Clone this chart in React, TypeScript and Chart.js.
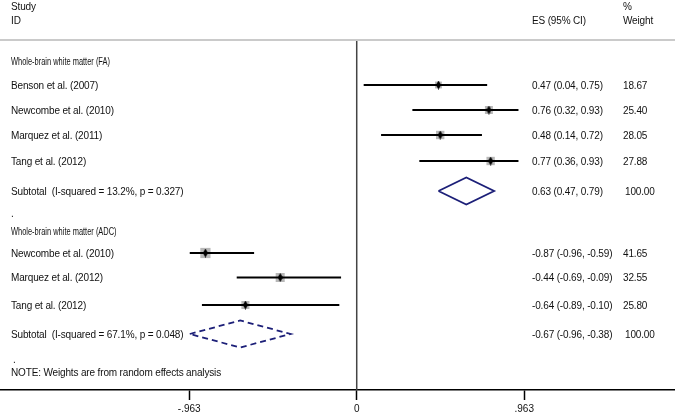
import React, { useEffect, useRef } from "react";
import { Chart, registerables } from "chart.js";

Chart.register(...registerables);

// ---------- data ----------
const faStudies = ["Benson et al. (2007)", "Newcombe et al. (2010)", "Marquez et al. (2011)", "Tang et al. (2012)"];
const faES = [0.47, 0.76, 0.48, 0.77];
const faLo = [0.04, 0.32, 0.14, 0.36];
const faHi = [0.75, 0.93, 0.72, 0.93];
const faWeight = [18.67, 25.4, 28.05, 27.88];

const adcStudies = ["Newcombe et al. (2010)", "Marquez et al. (2012)", "Tang et al. (2012)"];
const adcES = [-0.87, -0.44, -0.64];
const adcLo = [-0.96, -0.69, -0.89];
const adcHi = [-0.59, -0.09, -0.1];
const adcWeight = [41.65, 32.55, 25.8];

const subtotalLabels = ["Subtotal  (I-squared = 13.2%, p = 0.327)", "Subtotal  (I-squared = 67.1%, p = 0.048)"];
const subES = [0.63, -0.67];
const subLo = [0.47, -0.96];
const subHi = [0.79, -0.38];
const subWeight = [100.0, 100.0];

const groupHeaders = ["Whole-brain white matter (FA)", "Whole-brain white matter (ADC)"];
const tickValues = [-0.963, 0, 0.963];
const tickLabels = ["-.963", "0", ".963"];
const noteText = "NOTE: Weights are from random effects analysis";

// ---------- layout (row positions on the vertical scale) ----------
const Y_HEAD1 = 6.5;
const Y_HEAD2 = 20.5;
const Y_RULE = 40;
const Y_FA_HEADER = 61.5;
const Y_FA_ROWS = [85, 110, 135, 161];
const Y_FA_SUB = 191;
const Y_DOT1 = 213;
const Y_ADC_HEADER = 231;
const Y_ADC_ROWS = [253, 277.5, 305];
const Y_ADC_SUB = 334;
const Y_DOT2 = 359;
const Y_NOTE = 372.5;
const Y_AXIS = 390;
const AXIS_HEIGHT = 25;
const X_MIN = -2.051;
const X_MAX = 1.83;
const DIAMOND_HALF = 13.5;

const NAVY = "#1c1f78";
const FAMILY = '"Liberation Sans", Arial, sans-serif';
const FONT = `10px ${FAMILY}`;
const HEADER_FONT = `10.8px ${FAMILY}`;
const fmt = (v: number) => v.toFixed(2);
const ciText = (e: number, l: number, h: number) => `${fmt(e)} (${fmt(l)}, ${fmt(h)})`;

export default function App() {
  const ref = useRef<HTMLCanvasElement | null>(null);

  useEffect(() => {
    document.body.style.margin = "0";
    const canvas = ref.current!;

    const marker = document.createElement("canvas");
    marker.width = 5;
    marker.height = 9;
    const mc = marker.getContext("2d")!;
    mc.fillStyle = "#000";
    mc.beginPath();
    mc.moveTo(2.5, 0);
    mc.lineTo(5, 4.5);
    mc.lineTo(2.5, 9);
    mc.lineTo(0, 4.5);
    mc.closePath();
    mc.fill();

    const allES = [...faES, ...adcES];
    const allLo = [...faLo, ...adcLo];
    const allHi = [...faHi, ...adcHi];
    const allW = [...faWeight, ...adcWeight];
    const allY = [...Y_FA_ROWS, ...Y_ADC_ROWS];
    const subY = [Y_FA_SUB, Y_ADC_SUB];

    const datasets: any[] = [];

    datasets.push({
      data: [{ x: X_MIN, y: Y_RULE }, { x: X_MAX, y: Y_RULE }],
      showLine: true, borderColor: "#cacaca", borderWidth: 2, pointRadius: 0, order: 10,
    });
    datasets.push({
      data: [{ x: 0, y: Y_RULE }, { x: 0, y: Y_AXIS }],
      showLine: true, borderColor: "#444", borderWidth: 1.5, pointRadius: 0, order: 10,
    });

    datasets.push({
      data: allES.map((e, i) => ({ x: e, y: allY[i] })),
      pointStyle: "rect",
      pointRadius: allW.map((w) => 1.12 * Math.sqrt(w)),
      backgroundColor: "#b8b8b8",
      borderWidth: 0,
      order: 5,
    });

    allES.forEach((_, i) => {
      datasets.push({
        data: [{ x: allLo[i], y: allY[i] }, { x: allHi[i], y: allY[i] }],
        showLine: true, borderColor: "#000", borderWidth: 2, pointRadius: 0, order: 3,
      });
    });

    datasets.push({
      data: allES.map((e, i) => ({ x: e, y: allY[i] })),
      pointStyle: marker,
      pointRadius: 4,
      order: 1,
    });

    subES.forEach((e, i) => {
      datasets.push({
        data: [
          { x: subLo[i], y: subY[i] },
          { x: e, y: subY[i] - DIAMOND_HALF },
          { x: subHi[i], y: subY[i] },
          { x: e, y: subY[i] + DIAMOND_HALF },
          { x: subLo[i], y: subY[i] },
        ],
        showLine: true,
        borderColor: NAVY,
        borderWidth: 1.8,
        borderDash: i === 1 ? [6, 4] : [],
        pointRadius: 0,
        tension: 0,
        order: 2,
      });
    });

    const textPlugin = {
      id: "forestText",
      afterDatasetsDraw(chart: any) {
        const ctx = chart.ctx as CanvasRenderingContext2D;
        const ys = chart.scales.y;
        const py = (v: number) => ys.getPixelForValue(v) + 1;
        ctx.save();
        ctx.fillStyle = "#111";
        ctx.textBaseline = "middle";
        ctx.textAlign = "left";
        ctx.font = FONT;
        (ctx as any).letterSpacing = "-0.15px";
        const X_L = 11, X_ES = 532, X_W = 623;
        const put = (t: string, x: number, y: number) => ctx.fillText(t, x, py(y));
        const putNarrow = (t: string, x: number, y: number, s: number) => {
          ctx.save();
          (ctx as any).letterSpacing = "0px";
          ctx.font = HEADER_FONT;
          ctx.translate(x, py(y));
          ctx.scale(s, 1);
          ctx.fillText(t, 0, 0);
          ctx.restore();
        };

        put("Study", X_L, Y_HEAD1);
        put("ID", X_L, Y_HEAD2);
        put("ES (95% CI)", X_ES, Y_HEAD2);
        put("%", X_W, Y_HEAD1);
        put("Weight", X_W, Y_HEAD2);

        putNarrow(groupHeaders[0], X_L, Y_FA_HEADER, 0.69);
        faStudies.forEach((s, i) => {
          put(s, X_L, Y_FA_ROWS[i]);
          put(ciText(faES[i], faLo[i], faHi[i]), X_ES, Y_FA_ROWS[i]);
          put(fmt(faWeight[i]), X_W, Y_FA_ROWS[i]);
        });
        put(subtotalLabels[0], X_L, Y_FA_SUB);
        put(ciText(subES[0], subLo[0], subHi[0]), X_ES, Y_FA_SUB);
        put(fmt(subWeight[0]), X_W + 2, Y_FA_SUB);
        put(".", X_L, Y_DOT1);

        putNarrow(groupHeaders[1], X_L, Y_ADC_HEADER, 0.69);
        adcStudies.forEach((s, i) => {
          put(s, X_L, Y_ADC_ROWS[i]);
          put(ciText(adcES[i], adcLo[i], adcHi[i]), X_ES, Y_ADC_ROWS[i]);
          put(fmt(adcWeight[i]), X_W, Y_ADC_ROWS[i]);
        });
        put(subtotalLabels[1], X_L, Y_ADC_SUB);
        put(ciText(subES[1], subLo[1], subHi[1]), X_ES, Y_ADC_SUB);
        put(fmt(subWeight[1]), X_W + 2, Y_ADC_SUB);
        put(".", X_L + 2, Y_DOT2);
        put(noteText, X_L, Y_NOTE);
        ctx.restore();
      },
    };

    const chart = new Chart(canvas, {
      type: "scatter",
      data: { datasets },
      options: {
        animation: false,
        responsive: false,
        devicePixelRatio: 1,
        layout: { padding: 0, autoPadding: false },
        plugins: { legend: { display: false }, tooltip: { enabled: false } },
        elements: { line: { tension: 0 } },
        scales: {
          x: {
            type: "linear",
            min: X_MIN,
            max: X_MAX,
            afterBuildTicks: (axis: any) => {
              axis.ticks = tickValues.map((v) => ({ value: v }));
            },
            afterFit: (axis: any) => {
              axis.height = AXIS_HEIGHT;
            },
            ticks: {
              autoSkip: false,
              maxRotation: 0,
              color: "#111",
              font: { family: FAMILY, size: 10, lineHeight: 1.0 },
              padding: 4,
              callback: (_v: any, i: number) => tickLabels[i],
            },
            grid: { drawOnChartArea: false, drawTicks: true, tickLength: 10, color: "#000", tickWidth: 1.5 },
            border: { color: "#000", width: 1.5 },
          },
          y: { type: "linear", display: false, reverse: true, min: 0, max: Y_AXIS },
        },
      },
      plugins: [textPlugin],
    });

    return () => chart.destroy();
  }, []);

  return <canvas ref={ref} width={675} height={415} style={{ display: "block" }} />;
}
